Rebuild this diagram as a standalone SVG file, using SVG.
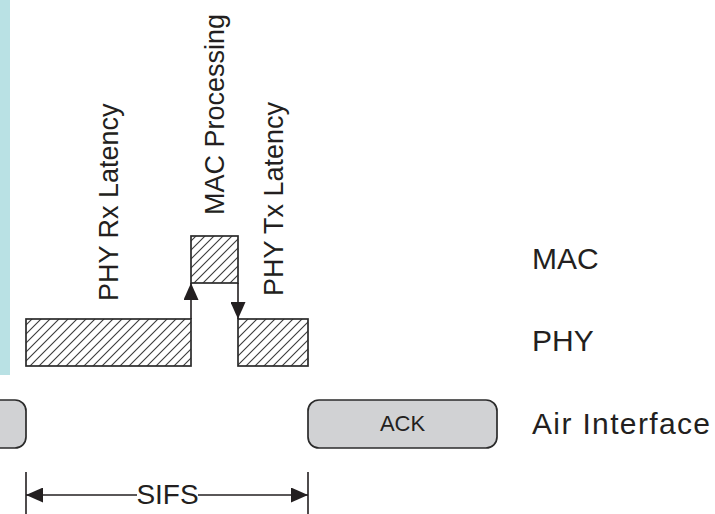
<svg xmlns="http://www.w3.org/2000/svg" width="715" height="514" viewBox="0 0 715 514">
<style>
  .txt { font-family: "Liberation Sans", Arial, sans-serif; fill: #231f20; }
  .box { fill: url(#hatch); stroke: #2b2b2b; stroke-width: 1.7; }
  .pill { fill: #d1d2d4; stroke: #2b2b2b; stroke-width: 1.7; }
  .line { stroke: #231f20; stroke-width: 1.6; fill: none; }
</style>
<defs>
  <pattern id="hatch" patternUnits="userSpaceOnUse" width="9" height="9">
    <rect width="9" height="9" fill="#ffffff"/>
    <path d="M0,9 L9,0 M-2,2 L2,-2 M7,11 L11,7" stroke="#3a3a3a" stroke-width="1.1"/>
  </pattern>
  <marker id="ah" viewBox="0 0 17 15" refX="17" refY="7.5" markerWidth="17" markerHeight="15" markerUnits="userSpaceOnUse" orient="auto">
    <path d="M0,0 L17,7.5 L0,15 Z" fill="#231f20"/>
  </marker>
  <marker id="ahs" viewBox="0 0 17 15" refX="0" refY="7.5" markerWidth="17" markerHeight="15" markerUnits="userSpaceOnUse" orient="auto">
    <path d="M17,0 L0,7.5 L17,15 Z" fill="#231f20"/>
  </marker>
</defs>

<rect id="side-bar" x="0" y="0" width="10" height="375" fill="#b9e1e4"/>

<g id="phy-rx-latency">
  <rect class="box" x="26" y="319" width="165" height="47"/>
  <text class="txt" font-size="27" transform="translate(118,301) rotate(-90)">PHY Rx Latency</text>
</g>
<g id="mac-processing">
  <rect class="box" x="191" y="236" width="47" height="47"/>
  <text class="txt" font-size="27" transform="translate(224,215) rotate(-90)">MAC Processing</text>
</g>
<g id="phy-tx-latency">
  <rect class="box" x="238" y="319" width="70" height="47"/>
  <text class="txt" font-size="27" transform="translate(283,296) rotate(-90)">PHY Tx Latency</text>
</g>

<g id="prev-frame">
  <rect class="pill" x="-30" y="400" width="56" height="48" rx="11"/>
</g>
<g id="ack">
  <rect class="pill" x="308" y="400" width="189" height="48" rx="11"/>
  <text class="txt" font-size="22" x="402.5" y="431" text-anchor="middle">ACK</text>
</g>

<g id="layer-labels">
  <text class="txt" font-size="30" x="532" y="269">MAC</text>
  <text class="txt" font-size="30" x="532" y="351">PHY</text>
  <text class="txt" font-size="30" x="532" y="434" textLength="178">Air Interface</text>
</g>

<g id="connectors">
  <line class="line" x1="191" y1="319" x2="191" y2="283" marker-end="url(#ah)"/>
  <line class="line" x1="238" y1="283" x2="238" y2="319" marker-end="url(#ah)"/>
  <line class="line" x1="26" y1="472" x2="26" y2="514"/>
  <line class="line" x1="308" y1="472" x2="308" y2="514"/>
  <line class="line" x1="26" y1="495" x2="137" y2="495" marker-start="url(#ahs)"/>
  <line class="line" x1="198" y1="495" x2="308" y2="495" marker-end="url(#ah)"/>
</g>
<g id="sifs">
  <text class="txt" font-size="28" x="167.5" y="504" text-anchor="middle">SIFS</text>
</g>
</svg>
